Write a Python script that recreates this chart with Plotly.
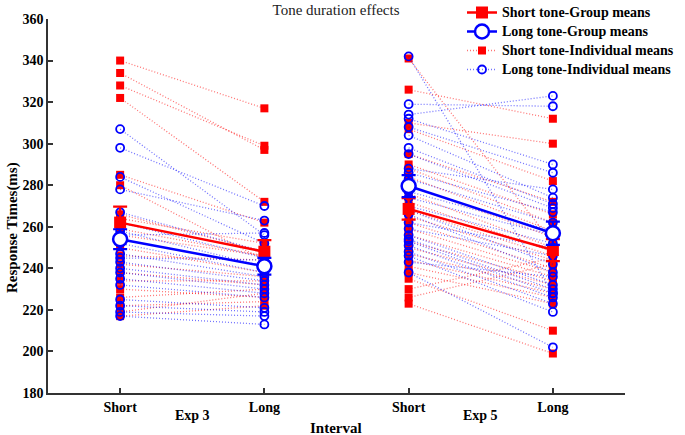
import plotly.graph_objects as go

# ---------------- data ----------------
x_labels = ["Short", "Long", "Short", "Long"]
x_pos = [1, 2, 3, 4]
exp_labels = ["Exp 3", "Exp 5"]

# Exp 3 individual means (Short interval, Long interval)
e3_short_tone_short = [340, 334, 328, 322, 285, 280, 266, 264, 259, 256, 250, 246, 242, 238, 234, 230, 226, 222, 219, 217]
e3_short_tone_long = [317, 297, 299, 272, 262, 244, 248, 252, 246, 246, 238, 244, 236, 232, 234, 226, 230, 224, 228, 222]
e3_long_tone_short = [307, 298, 284, 278, 267, 262, 258, 256, 252, 247, 245, 243, 240, 238, 235, 232, 225, 222, 219, 217]
e3_long_tone_long = [256, 270, 252, 263, 248, 245, 241, 257, 238, 236, 244, 234, 232, 230, 228, 226, 221, 219, 217, 213]

# Exp 5 individual means
e5_short_tone_short = [341, 326, 310, 307, 295, 290, 288, 284, 280, 276, 272, 268, 265, 262, 259, 256, 253, 250, 247, 244, 241, 238, 235, 230, 226, 223]
e5_short_tone_long = [252, 312, 300, 282, 272, 266, 262, 258, 255, 250, 248, 246, 244, 240, 238, 236, 234, 232, 230, 228, 226, 223, 210, 245, 242, 199]
e5_long_tone_short = [342, 319, 314, 312, 308, 304, 298, 295, 288, 286, 283, 277, 274, 270, 268, 266, 262, 259, 256, 254, 253, 251, 248, 246, 243, 238]
e5_long_tone_long = [228, 318, 323, 290, 286, 274, 271, 269, 278, 267, 262, 258, 256, 252, 242, 238, 250, 246, 232, 230, 228, 226, 223, 219, 236, 202]

# Group means and standard errors: [Exp3 Short, Exp3 Long, Exp5 Short, Exp5 Long]
short_tone_mean = [262, 248, 268.6, 248.8]
short_tone_se = [7.7, 5.6, 5.2, 5.3]
long_tone_mean = [254, 241, 279.6, 256.9]
long_tone_se = [4.8, 4.0, 5.3, 5.6]

RED = "#FF0000"
BLUE = "#0000FF"
FONT = "Liberation Serif"


def pairs(xa, xb, a, b):
    xs, ys = [], []
    for va, vb in zip(a, b):
        xs += [xa, xb, None]
        ys += [va, vb, None]
    return xs, ys


def legend_name(s):
    return "<span style='font-size:14px'>%s</span>" % s


fig = go.Figure()

# individual means
groups = [
    (1, 2, e3_short_tone_short, e3_short_tone_long, e3_long_tone_short, e3_long_tone_long, True),
    (3, 4, e5_short_tone_short, e5_short_tone_long, e5_long_tone_short, e5_long_tone_long, False),
]
red_traces, blue_traces = [], []
for xa, xb, ss, sl, ls, ll, show in groups:
    xs, ys = pairs(xa, xb, ss, sl)
    red_traces.append(go.Scatter(
        x=xs, y=ys, mode="lines+markers",
        line=dict(color="rgba(255,0,0,0.55)", width=1.3, dash="1px,2px"),
        marker=dict(symbol="square", size=8, color=RED),
        name=legend_name("Short tone-Individual means"), showlegend=show, legendrank=3))
    xs, ys = pairs(xa, xb, ls, ll)
    blue_traces.append(go.Scatter(
        x=xs, y=ys, mode="lines+markers",
        line=dict(color="rgba(0,0,255,0.55)", width=1.3, dash="1px,2px"),
        marker=dict(symbol="circle-open", size=8, color=BLUE, line=dict(width=1.8, color=BLUE)),
        name=legend_name("Long tone-Individual means"), showlegend=show, legendrank=4))
for t in red_traces + blue_traces:
    fig.add_trace(t)

# group means
for i, (xa, xb) in enumerate([(0, 1), (2, 3)]):
    show = i == 0
    fig.add_trace(go.Scatter(
        x=[x_pos[xa], x_pos[xb]], y=[short_tone_mean[xa], short_tone_mean[xb]],
        mode="lines+markers",
        line=dict(color=RED, width=2.5),
        marker=dict(symbol="square", size=12, color=RED),
        error_y=dict(type="data", array=[short_tone_se[xa], short_tone_se[xb]],
                     color=RED, thickness=2.2, width=7),
        name=legend_name("Short tone-Group means"), showlegend=show, legendrank=1))
    fig.add_trace(go.Scatter(
        x=[x_pos[xa], x_pos[xb]], y=[long_tone_mean[xa], long_tone_mean[xb]],
        mode="lines+markers",
        line=dict(color=BLUE, width=2.5),
        marker=dict(symbol="circle", size=14, color="white", line=dict(width=2.5, color=BLUE)),
        error_y=dict(type="data", array=[long_tone_se[xa], long_tone_se[xb]],
                     color=BLUE, thickness=2.2, width=7),
        name=legend_name("Long tone-Group means"), showlegend=show, legendrank=2))

annotations = [
    dict(text="<b>%s</b>" % exp_labels[0], x=1.5, y=0, xref="x", yref="paper",
         yshift=-22, yanchor="middle", showarrow=False,
         font=dict(family=FONT, size=14, color="black")),
    dict(text="<b>%s</b>" % exp_labels[1], x=3.5, y=0, xref="x", yref="paper",
         yshift=-22, yanchor="middle", showarrow=False,
         font=dict(family=FONT, size=14, color="black")),
    dict(text="<b>Interval</b>", x=(336 - 48) / 577, y=0, xref="paper", yref="paper",
         yshift=-35, xanchor="center", yanchor="middle", showarrow=False,
         font=dict(family=FONT, size=15, color="black")),
    dict(text="<b>Response Times(ms)</b>", x=(12 - 48) / 577, y=(393 - 228) / 374,
         xref="paper", yref="paper", textangle=-90, showarrow=False,
         xanchor="center", yanchor="middle",
         font=dict(family=FONT, size=15, color="black")),
]

fig.update_layout(
    width=685, height=435,
    margin=dict(l=48, r=60, t=19, b=42, autoexpand=False),
    paper_bgcolor="white", plot_bgcolor="white",
    title=dict(text="Tone duration effects", x=336 / 685, xanchor="center",
               y=1 - 10 / 435, yanchor="middle",
               font=dict(family=FONT, size=15, color="#222")),
    font=dict(family=FONT, color="black"),
    showlegend=True,
    legend=dict(x=(462 - 48) / 577, y=1 + 21 / 374, xanchor="left", yanchor="top",
                bgcolor="rgba(255,255,255,0)", tracegroupgap=0,
                font=dict(family=FONT, size=11.2, color="black", weight="bold")),
    annotations=annotations,
)
fig.update_xaxes(
    range=[0.5, 4.5], tickvals=x_pos, ticktext=x_labels,
    showline=True, linecolor="#333", linewidth=1.5, mirror=False,
    ticks="inside", ticklen=5, tickwidth=1.5, tickcolor="#333",
    showgrid=False, zeroline=False,
    tickfont=dict(family=FONT, size=14, color="black", weight="bold"),
)
fig.update_yaxes(
    range=[180, 360], tickvals=list(range(180, 361, 20)),
    showline=True, linecolor="#333", linewidth=1.5, mirror=False,
    ticks="inside", ticklen=5, tickwidth=1.5, tickcolor="#333",
    showgrid=False, zeroline=False,
    tickfont=dict(family=FONT, size=14, color="black", weight="bold"),
)

fig.write_html("out.html", config={"displayModeBar": False},
               post_script="document.body.style.margin='0';")
